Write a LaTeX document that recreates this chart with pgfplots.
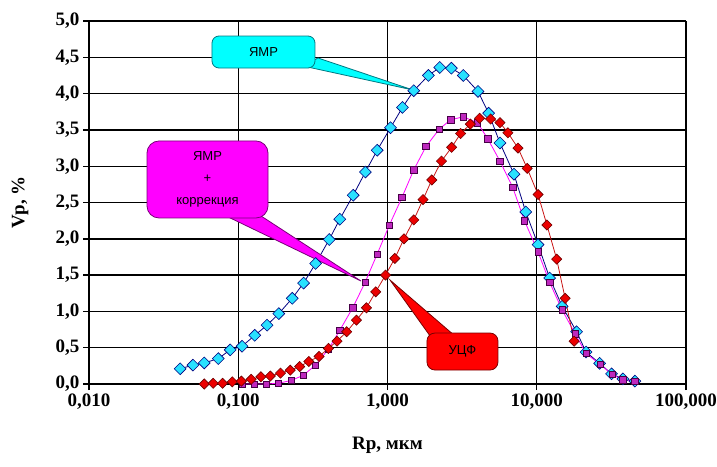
\documentclass[border=0pt]{standalone}
\usepackage{fontspec}
\setmainfont{Liberation Serif}
\newfontfamily\calfont{Liberation Sans}
\usepackage{pgfplots}
\pgfplotsset{compat=1.18}

\definecolor{nmrfill}{RGB}{40,225,255}
\definecolor{nmrline}{RGB}{0,0,128}
\definecolor{corfill}{RGB}{190,40,190}
\definecolor{coredge}{RGB}{70,0,70}
\definecolor{corline}{RGB}{255,0,255}
\definecolor{ucffill}{RGB}{235,0,0}
\definecolor{ucfedge}{RGB}{110,0,0}
\definecolor{ucfline}{RGB}{200,20,20}
\definecolor{boxcyan}{RGB}{0,255,255}
\definecolor{boxcyanedge}{RGB}{0,120,130}
\definecolor{boxmag}{RGB}{255,0,255}
\definecolor{boxmagedge}{RGB}{120,0,120}
\definecolor{boxred}{RGB}{255,0,0}
\definecolor{boxrededge}{RGB}{120,0,0}

% ЯМР
\pgfplotstableread{
R v
0.0408 0.21
0.0497 0.26
0.0592 0.29
0.0735 0.35
0.0883 0.47
0.106 0.52
0.129 0.67
0.156 0.81
0.187 0.97
0.230 1.18
0.274 1.39
0.330 1.66
0.407 1.99
0.479 2.27
0.589 2.60
0.711 2.92
0.853 3.22
1.048 3.53
1.26 3.81
1.50 4.04
1.88 4.25
2.24 4.36
2.68 4.35
3.22 4.25
4.04 4.03
4.76 3.73
5.67 3.32
7.04 2.89
8.44 2.37
10.2 1.92
12.2 1.46
14.8 1.07
18.5 0.72
21.4 0.44
26.4 0.285
31.7 0.14
37.8 0.07
45.5 0.04
}\nmr

% ЯМР + коррекция
\pgfplotstableread{
R v
0.106 0.00
0.128 0.00
0.154 0.00
0.186 0.01
0.227 0.05
0.273 0.12
0.329 0.26
0.402 0.48
0.479 0.74
0.585 1.05
0.708 1.40
0.853 1.79
1.03 2.19
1.25 2.57
1.50 2.95
1.81 3.27
2.22 3.51
2.65 3.64
3.22 3.68
4.00 3.60
4.69 3.38
5.67 3.07
6.90 2.71
8.27 2.25
10.2 1.82
12.2 1.40
14.8 1.02
18.1 0.69
21.4 0.42
26.6 0.27
32.0 0.13
37.8 0.06
45.5 0.04
}\cor

% УЦФ
\pgfplotstableread{
R v
0.0592 0.00
0.0679 0.01
0.0785 0.01
0.0912 0.03
0.105 0.04
0.122 0.065
0.142 0.10
0.164 0.11
0.192 0.15
0.223 0.19
0.258 0.24
0.297 0.31
0.348 0.38
0.402 0.49
0.459 0.59
0.533 0.72
0.619 0.88
0.723 1.05
0.834 1.27
0.970 1.50
1.12 1.73
1.29 2.00
1.50 2.26
1.73 2.54
1.98 2.81
2.30 3.07
2.69 3.26
3.09 3.45
3.59 3.58
4.14 3.66
4.91 3.65
5.67 3.60
6.41 3.46
7.49 3.25
8.63 2.97
10.2 2.61
11.7 2.19
13.6 1.72
15.5 1.18
17.8 0.59
}\ucf

\begin{document}
\begin{tikzpicture}
\path[use as bounding box] (-89pt,-82pt) rectangle (628pt,384pt);
\begin{semilogxaxis}[
    at={(0,0)}, anchor=south west,
    scale only axis, width=597pt, height=363pt,
    xmin=0.01, xmax=100, ymin=0, ymax=5,
    xtick={0.01,0.1,1,10,100},
    xticklabels={{0,010},{0,100},{1,000},{10,000},{100,000}},
    ytick={0,0.5,1,1.5,2,2.5,3,3.5,4,4.5,5},
    yticklabels={{0,0},{0,5},{1,0},{1,5},{2,0},{2,5},{3,0},{3,5},{4,0},{4,5},{5,0}},
    xminorticks=false,
    grid=major,
    major grid style={black, line width=1.4pt},
    axis x line*=bottom, axis y line*=left,
    axis line style={-, black, line width=1.4pt},
    tick align=outside, major tick length=6pt,
    tick style={black, line width=1.4pt},
    tick label style={font=\fontsize{19}{22}\selectfont\bfseries},
    every axis x label/.style={at={(axis description cs:0.5,0)}, anchor=center, yshift=-61pt},
    every axis y label/.style={at={(axis description cs:-0.1156,0.5)}, rotate=90, anchor=center},
    label style={font=\fontsize{19}{22}\selectfont\bfseries},
    xlabel={Rp, мкм}, ylabel={Vp, \%},
    clip=false,
]
\addplot[nmrline, line width=0.8pt, mark=square*, mark size=4.2pt,
    mark options={rotate=45, fill=nmrfill, draw=nmrline, line width=0.6pt}]
    table[x=R, y=v] {\nmr};
\addplot[corline, line width=0.8pt, mark=square*, mark size=3.2pt,
    mark options={fill=corfill, draw=coredge, line width=0.6pt}]
    table[x=R, y=v] {\cor};
\addplot[ucfline, line width=0.8pt, mark=square*, mark size=3.6pt,
    mark options={rotate=45, fill=ucffill, draw=ucfedge, line width=0.6pt}]
    table[x=R, y=v] {\ucf};

% callouts
\filldraw[fill=boxcyan, draw=boxcyanedge, line width=0.8pt]
    (rel axis cs:0.3585,0.8760) -- (rel axis cs:0.3836,0.8981) -- (rel axis cs:0.5427,0.8099) -- cycle;
\node[draw=boxcyanedge, fill=boxcyan, line width=0.8pt, rounded corners=7pt,
    minimum width=103pt, minimum height=32pt, inner sep=0pt,
    font=\calfont\fontsize{13}{15}\selectfont]
    at (rel axis cs:0.2923,0.9146) {ЯМР};

\filldraw[fill=boxmag, draw=boxmagedge, line width=0.8pt]
    (rel axis cs:0.2228,0.4683) -- (rel axis cs:0.2831,0.4683) -- (rel axis cs:0.4556,0.2837) -- cycle;
\node[draw=boxmagedge, fill=boxmag, line width=0.8pt, rounded corners=12pt,
    minimum width=121pt, minimum height=77pt, inner sep=0pt, align=center,
    font=\calfont\fontsize{13}{22}\selectfont]
    at (rel axis cs:0.1985,0.5634) {ЯМР\\+\\коррекция};

\filldraw[fill=boxred, draw=boxrededge, line width=0.8pt]
    (rel axis cs:0.5042,0.2865) -- (rel axis cs:0.5762,0.1212) -- (rel axis cs:0.6131,0.1322) -- cycle;
\node[draw=boxrededge, fill=boxred, line width=0.8pt, rounded corners=8pt,
    minimum width=71pt, minimum height=37pt, inner sep=0pt,
    font=\calfont\fontsize{13}{15}\selectfont]
    at (rel axis cs:0.6256,0.0895) {УЦФ};
\end{semilogxaxis}
\end{tikzpicture}
\end{document}
